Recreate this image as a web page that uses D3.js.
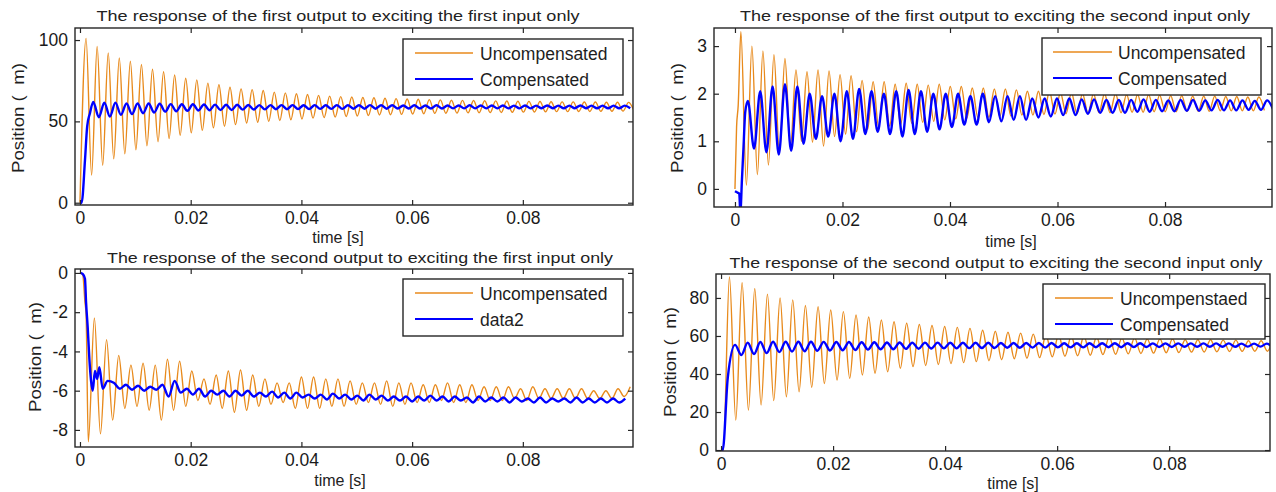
<!DOCTYPE html>
<html><head><meta charset="utf-8">
<script src="https://cdn.jsdelivr.net/npm/d3@7"></script>
<style>body{margin:0;background:#fff}svg{display:block}text{font-family:"Liberation Sans",Arial,sans-serif}</style>
</head><body>
<svg id="c" width="1276" height="492"></svg>
<script>
// ---------------- DATA ----------------
const xTickValues = [0, 0.02, 0.04, 0.06, 0.08];
const xTickLabels = ["0", "0.02", "0.04", "0.06", "0.08"];
const yTicks1 = [0, 50, 100];
const yTicks2 = [0, 1, 2, 3];
const yTicks3 = [0, -2, -4, -6, -8];
const yTicks4 = [0, 20, 40, 60, 80];

const titles = [
  "The response of the first output to exciting the first input only",
  "The response of the first output to exciting the second input only",
  "The response of the second output to exciting the first input only",
  "The response of the second output to exciting the second input only"
];
const legendNames1 = ["Uncompensated", "Compensated"];
const legendNames2 = ["Uncompensated", "Compensated"];
const legendNames3 = ["Uncompensated", "data2"];
const legendNames4 = ["Uncompenstaed", "Compensated"];
const xLabel = "time [s]";
const yLabel = "Position ( \u00a0m)";

// Panel 1 : first output / first input
const p1UncLead = [[0, 0]];
const p1UncStart = 0.0011, p1UncPeriod = 0.002;
const p1UncPeaks = [101,96,92,89,87,85,82,80.5,78.5,76.5,75.5,73.5,72.5,71,70,69.5,69,68,67.5,67,66.5,66,65.5,65.2,65,64.7,64.5,64.2,64,63.8,63.6,63.4,63.2,63,62.9,62.8,62.7,62.6,62.5,62.4,62.3,62.2,62.1,62,62,61.9,61.9,61.8,61.8,61.7];
const p1UncTroughs = [17,23,27,30,32.5,35,37.5,39.5,41.5,43,44.5,46,47,48,49,49.5,50,50.5,51,51.5,52,52.3,52.6,53,53.3,53.6,53.9,54.1,54.3,54.5,54.7,54.9,55,55.1,55.2,55.3,55.4,55.5,55.6,55.7,55.8,55.9,56,56,56.1,56.1,56.2,56.2,56.3,56.3];
const p1CmpLead = [[0, 0], [0.0003, 0], [0.0009, 26], [0.0013, 47], [0.0018, 55]];
const p1CmpStart = 0.0024, p1CmpPeriod = 0.002;
const p1CmpPeaks = [62,61.5,61.5,61,61,61,60.8,60.6,60.5,60.5,60.4,60.3,60.2,60.2,60.1,60,60,60,60,59.9,60,59.9,60,59.9,59.9,60,59.9,59.9,59.8,59.9,59.8,59.9,59.8,59.8,59.9,59.8,59.8,59.8,59.7,59.8,59.7,59.8,59.7,59.7,59.8,59.7,59.7,59.7,59.7];
const p1CmpTroughs = [52.5,53,54,54.5,55,55.5,56,56.2,56.5,56.7,56.8,57,57,57.2,57.3,57.4,57.5,57.5,57.6,57.6,57.7,57.7,57.7,57.8,57.8,57.8,57.8,57.9,57.9,57.9,57.9,57.9,58,58,58,58,58,58,58,58,58.1,58.1,58.1,58.1,58.1,58.1,58.1,58.1,58.1];

// Panel 2 : first output / second input
const p2UncLead = [[0, 0], [0.0003, 1.3], [0.0006, 1.75]];
const p2UncStart = 0.0011, p2UncPeriod = 0.00205;
const p2UncPeaks = [3.3,3.0,2.9,2.82,2.74,2.5,2.46,2.5,2.48,2.4,2.38,2.28,2.25,2.25,2.2,2.22,2.2,2.18,2.2,2.15,2.15,2.12,2.12,2.1,2.1,2.08,2.05,2.05,2.05,2.02,2.02,2.0,2.0,2.0,2.0,1.98,1.98,1.98,1.97,1.96,1.96,1.95,1.95,1.95,1.94,1.94,1.93,1.93];
const p2UncTroughs = [0.08,0.3,0.5,0.75,0.9,1.0,0.98,0.9,1.1,1.15,1.2,1.25,1.3,1.32,1.35,1.38,1.4,1.42,1.45,1.47,1.48,1.5,1.5,1.52,1.53,1.55,1.55,1.56,1.57,1.58,1.58,1.59,1.6,1.6,1.6,1.61,1.61,1.62,1.62,1.62,1.63,1.63,1.63,1.64,1.64,1.64,1.64,1.65];
const p2CmpLead = [[0, -0.05], [0.0005, -0.08], [0.0008, -0.1], [0.0010, -0.5], [0.0013, 0.2], [0.0016, 0.9], [0.0019, 1.6]];
const p2CmpStart = 0.0024, p2CmpPeriod = 0.0023;
const p2CmpPeaks = [1.85,2.05,2.15,2.2,2.15,2.0,1.95,2.0,2.05,2.1,2.05,2.0,2.05,2.08,2.05,2.0,2.0,2.0,1.95,2.0,1.95,1.95,1.95,1.9,1.9,1.9,1.9,1.88,1.88,1.87,1.87,1.87,1.88,1.87,1.86,1.87,1.87,1.86,1.87,1.86,1.86,1.85,1.86];
const p2CmpTroughs = [0.85,0.77,0.72,0.8,0.95,1.05,1.1,1.0,1.05,1.15,1.2,1.15,1.1,1.15,1.2,1.25,1.3,1.35,1.35,1.4,1.42,1.45,1.45,1.5,1.52,1.55,1.55,1.58,1.6,1.6,1.6,1.62,1.62,1.63,1.63,1.64,1.64,1.65,1.65,1.65,1.66,1.66,1.66];

// Panel 3 : second output / first input (troughs come first)
const p3UncLead = [[0, 0], [0.0005, -0.1], [0.0009, -1.5], [0.0011, -2.1]];
const p3UncStart = 0.0015, p3UncPeriod = 0.0022;
const p3UncTroughs = [-8.6,-8.2,-7.5,-6.9,-6.8,-7.0,-7.5,-7.0,-6.8,-6.5,-6.7,-6.9,-7.1,-7.0,-6.8,-6.7,-6.6,-6.9,-6.9,-6.9,-6.8,-6.8,-6.7,-6.6,-6.7,-6.8,-6.7,-6.6,-6.6,-6.5,-6.6,-6.6,-6.5,-6.5,-6.5,-6.4,-6.5,-6.4,-6.4,-6.4,-6.4,-6.4,-6.4,-6.4,-6.3];
const p3UncPeaks = [-2.3,-3.4,-4.2,-4.7,-4.6,-4.7,-4.4,-4.5,-5.0,-5.4,-5.2,-5.0,-4.95,-5.2,-5.4,-5.6,-5.6,-5.3,-5.3,-5.4,-5.4,-5.5,-5.6,-5.6,-5.5,-5.6,-5.6,-5.7,-5.7,-5.6,-5.7,-5.7,-5.8,-5.8,-5.8,-5.9,-5.8,-5.9,-5.9,-5.9,-5.9,-6.0,-6.0,-5.9,-5.8];
const p3CmpLead = [[0, 0], [0.0005, -0.05], [0.0009, -0.3], [0.0011, -1.5], [0.0014, -2.8], [0.0017, -4.4], [0.0020, -5.5], [0.0023, -6.0], [0.0027, -5.0], [0.0031, -5.4], [0.0035, -4.8], [0.0041, -5.9], [0.0050, -5.5]];
const p3CmpStart = 0.0061, p3CmpPeriod = 0.0022;
const p3CmpHigh = [-5.6,-5.7,-5.75,-5.8,-5.7,-5.5,-5.9,-5.9,-6.0,-6.0,-6.0,-6.0,-6.1,-6.05,-6.1,-6.1,-6.2,-6.2,-6.15,-6.2,-6.25,-6.2,-6.25,-6.3,-6.3,-6.3,-6.25,-6.3,-6.3,-6.35,-6.3,-6.35,-6.35,-6.35,-6.4,-6.35,-6.4,-6.4,-6.35,-6.4,-6.4,-6.4,-6.4];
const p3CmpLow = [-5.9,-5.95,-6.0,-5.95,-6.3,-6.1,-6.2,-6.3,-6.2,-6.3,-6.25,-6.3,-6.3,-6.35,-6.4,-6.35,-6.4,-6.45,-6.4,-6.45,-6.5,-6.45,-6.5,-6.5,-6.55,-6.5,-6.5,-6.55,-6.5,-6.6,-6.55,-6.55,-6.6,-6.55,-6.6,-6.6,-6.55,-6.6,-6.6,-6.6,-6.6,-6.6];

// Panel 4 : second output / second input
const p4UncLead = [[0, 0], [0.0004, 0]];
const p4UncStart = 0.0015, p4UncPeriod = 0.00226;
const p4UncPeaks = [91,88,85,82,80,79,76,75.4,73.7,72.8,71,70,68.4,67.5,66.7,66,65.5,65,64.5,64,63,62.5,62,61.5,61,60.5,60.5,60,60,59.5,59.5,59,59,58.5,58.5,58.5,58,58,58,57.8,57.8,57.5,57.5,57.5];
const p4UncTroughs = [15.8,21,23.7,26,28,30.7,33,35,36.8,37.7,39.5,40.4,41.2,43,43.9,44.5,45,45.5,46,46.5,47,47.5,48,48.3,48.6,49,49.3,49.6,49.9,50.2,50.4,50.6,50.8,51,51.2,51.3,51.5,51.6,51.7,51.8,51.9,52,52,52];
const p4CmpLead = [[0, 0], [0.0003, 0], [0.0012, 38]];
const p4CmpStart = 0.0025, p4CmpPeriod = 0.00226;
const p4CmpPeaks = [55.3,56.5,56.8,57,57,57,57,56.9,56.8,56.8,56.7,56.7,56.6,56.6,56.5,56.5,56.5,56.4,56.4,56.4,56.4,56.3,56.3,56.3,56.3,56.3,56.2,56.2,56.2,56.2,56.2,56.2,56.2,56.1,56.1,56.1,56.1,56.1,56.1,56.1,56,56,56,56];
const p4CmpTroughs = [50,50.5,51,51.5,51.8,52,52.2,52.4,52.5,52.6,52.8,53,53,53.2,53.3,53.4,53.5,53.5,53.6,53.7,53.7,53.8,53.8,53.9,53.9,54,54,54,54.1,54.1,54.1,54.2,54.2,54.2,54.2,54.3,54.3,54.3,54.3,54.3,54.4,54.4,54.4,54.4];

// ---------------- assembly helpers ----------------
function series(lead, start, period, first, second) {
  const pts = lead.map(d => [d[0], d[1]]);
  const n = Math.max(first.length, second.length);
  for (let k = 0; k < n; k++) {
    if (k < first.length) pts.push([start + k * period, first[k]]);
    if (k < second.length) pts.push([start + k * period + period / 2, second[k]]);
  }
  return pts;
}

const panels = [
  { box: [75, 633, 28, 205], xd: [-0.0009, 0.0999], yd: [-1.4, 107.4], yTicks: yTicks1,
    title: titles[0], titleX: 338, titleY: 21, titleW: 483,
    ylab: [18, 118], xlab: [338, 243],
    legend: { x: 403, y: 39, w: 220, h: 56, lx: 415, lw: 58, tx: 480, names: legendNames1 },
    unc: series(p1UncLead, p1UncStart, p1UncPeriod, p1UncPeaks, p1UncTroughs),
    cmp: series(p1CmpLead, p1CmpStart, p1CmpPeriod, p1CmpPeaks, p1CmpTroughs) },
  { box: [714, 1272, 28, 207], xd: [-0.0039, 0.0999], yd: [-0.38, 3.38], yTicks: yTicks2,
    title: titles[1], titleX: 995, titleY: 21, titleW: 510,
    ylab: [677, 118], xlab: [1011, 247],
    legend: { x: 1042, y: 38, w: 219, h: 57, lx: 1053, lw: 59, tx: 1118, names: legendNames2 },
    unc: series(p2UncLead, p2UncStart, p2UncPeriod, p2UncPeaks, p2UncTroughs),
    cmp: series(p2CmpLead, p2CmpStart, p2CmpPeriod, p2CmpPeaks, p2CmpTroughs) },
  { box: [75, 633, 269, 447], xd: [-0.0009, 0.0999], yd: [-8.87, 0.2], yTicks: yTicks3,
    title: titles[2], titleX: 360, titleY: 263, titleW: 506,
    ylab: [35, 357], xlab: [340, 486],
    legend: { x: 403, y: 279, w: 220, h: 57, lx: 415, lw: 58, tx: 480, names: legendNames3 },
    unc: series(p3UncLead, p3UncStart, p3UncPeriod, p3UncTroughs, p3UncPeaks),
    cmp: series(p3CmpLead, p3CmpStart, p3CmpPeriod, p3CmpHigh, p3CmpLow) },
  { box: [716, 1270, 274, 451], xd: [-0.0009, 0.098], yd: [-0.5, 92.6], yTicks: yTicks4,
    title: titles[3], titleX: 996, titleY: 268, titleW: 533,
    ylab: [670, 362], xlab: [1013, 489],
    legend: { x: 1043, y: 284, w: 222, h: 55, lx: 1055, lw: 58, tx: 1120, names: legendNames4 },
    unc: series(p4UncLead, p4UncStart, p4UncPeriod, p4UncPeaks, p4UncTroughs),
    cmp: series(p4CmpLead, p4CmpStart, p4CmpPeriod, p4CmpPeaks, p4CmpTroughs) }
];

const ORANGE = "#E88A1C", BLUE = "#0000FF", AX = "#262626";
const svg = d3.select("#c");

panels.forEach((p, i) => {
  const [L, R, T, B] = p.box;
  const x = d3.scaleLinear().domain(p.xd).range([L, R]);
  const y = d3.scaleLinear().domain(p.yd).range([B, T]);
  const g = svg.append("g");
  const cid = "clip" + i;
  svg.append("clipPath").attr("id", cid).append("rect")
    .attr("x", L).attr("y", T).attr("width", R - L).attr("height", B - T);

  const line = d3.line().x(d => x(d[0])).y(d => y(d[1])).curve(d3.curveMonotoneX);
  const plot = g.append("g").attr("clip-path", `url(#${cid})`);
  plot.append("path").datum(p.unc).attr("d", line)
    .attr("fill", "none").attr("stroke", ORANGE).attr("stroke-width", 1.4);
  plot.append("path").datum(p.cmp).attr("d", line)
    .attr("fill", "none").attr("stroke", BLUE).attr("stroke-width", 2.4);

  // axes (MATLAB style, ticks inside)
  const fmtX = d => xTickLabels[xTickValues.indexOf(d)];
  const ax = [
    g.append("g").attr("transform", `translate(0,${B})`).call(d3.axisBottom(x).tickValues(xTickValues).tickFormat(fmtX).tickSize(-5).tickPadding(7)),
    g.append("g").attr("transform", `translate(0,${T})`).call(d3.axisTop(x).tickValues(xTickValues).tickFormat("").tickSize(-5)),
    g.append("g").attr("transform", `translate(${L},0)`).call(d3.axisLeft(y).tickValues(p.yTicks).tickFormat(d => String(d)).tickSize(-5).tickPadding(7)),
    g.append("g").attr("transform", `translate(${R},0)`).call(d3.axisRight(y).tickValues(p.yTicks).tickFormat("").tickSize(-5))
  ];
  ax.forEach(a => {
    a.select(".domain").remove();
    a.selectAll("line").attr("stroke", AX).attr("stroke-width", 1.2);
    a.selectAll("text").attr("fill", "#1a1a1a").style("font-size", "17.5px").style("font-family", '"Liberation Sans",Arial,sans-serif');
  });
  g.append("rect").attr("x", L).attr("y", T).attr("width", R - L).attr("height", B - T)
    .attr("fill", "none").attr("stroke", AX).attr("stroke-width", 1.4);

  // title / labels
  g.append("text").attr("x", p.titleX).attr("y", p.titleY).attr("text-anchor", "middle")
    .attr("textLength", p.titleW).attr("lengthAdjust", "spacingAndGlyphs")
    .style("font-size", "15.5px").attr("fill", "#222").text(p.title);
  g.append("text").attr("x", p.xlab[0]).attr("y", p.xlab[1]).attr("text-anchor", "middle")
    .style("font-size", "16px").attr("fill", "#222").text(xLabel);
  g.append("text").attr("transform", `translate(${p.ylab[0] + 6},${p.ylab[1]}) rotate(-90)`)
    .attr("text-anchor", "middle").attr("textLength", 110).attr("lengthAdjust", "spacingAndGlyphs")
    .style("font-size", "17px").attr("fill", "#1e1e1e").text(yLabel);

  // legend
  const lg = p.legend;
  g.append("rect").attr("x", lg.x).attr("y", lg.y).attr("width", lg.w).attr("height", lg.h)
    .attr("fill", "#fff").attr("stroke", AX).attr("stroke-width", 1.4);
  [ORANGE, BLUE].forEach((c, j) => {
    const yy = lg.y + 14 + j * 26;
    g.append("line").attr("x1", lg.lx).attr("x2", lg.lx + lg.lw).attr("y1", yy).attr("y2", yy)
      .attr("stroke", c).attr("stroke-width", j ? 2.2 : 1.5);
    g.append("text").attr("x", lg.tx).attr("y", yy + 6.5).style("font-size", "17.5px")
      .attr("fill", "#1e1e1e").text(lg.names[j]);
  });
});
</script>
</body></html>
